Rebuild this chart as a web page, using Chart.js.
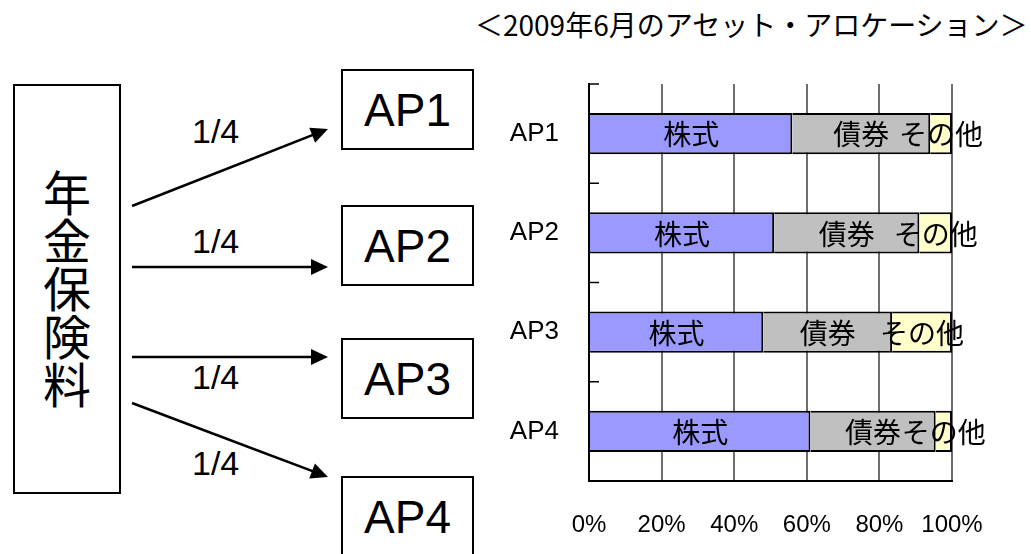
<!DOCTYPE html>
<html lang="ja">
<head>
    <meta charset="UTF-8">
    <title>2009年6月のアセット・アロケーション</title>
    <script src="https://cdn.jsdelivr.net/npm/chart.js@4/dist/chart.umd.js"></script>
    <style>
        body {margin: 0; width: 1031px; height: 554px; overflow: hidden; position: relative; background: #fff;
              font-family: "Liberation Sans", Arial, sans-serif; color: #000;}
        .box {position: absolute; border: 2px solid #000; box-sizing: border-box; display: flex;
              align-items: center; justify-content: center; background: #fff;}
        .ap {left: 341px; width: 133px; height: 81px; font-size: 46px;}
        #source {left: 13px; top: 84px; width: 108px; height: 410px;
                 font-family: "Noto Sans CJK JP", sans-serif; font-size: 48px;}
        #source span {writing-mode: vertical-rl; line-height: 1;}
        .frac {position: absolute; left: 192px; font-size: 34px; line-height: 1;}
        #title {position: absolute; left: 475px; top: 10px; font-family: "Noto Sans CJK JP", sans-serif;
                font-size: 28px; line-height: 1; white-space: nowrap;}
        #arrows {position: absolute; left: 0; top: 0;}
        #allocChart {position: absolute; left: 0; top: 0;}
    </style>
</head>
<body>

<div id="title">＜2009年6月のアセット・アロケーション＞</div>

<div class="box" id="source"><span>年金保険料</span></div>

<div class="box ap" style="top:69px">AP1</div>
<div class="box ap" style="top:205px">AP2</div>
<div class="box ap" style="top:338px">AP3</div>
<div class="box ap" style="top:476px">AP4</div>

<div class="frac" style="top:114px">1/4</div>
<div class="frac" style="top:224px">1/4</div>
<div class="frac" style="top:360px">1/4</div>
<div class="frac" style="top:446px">1/4</div>

<svg id="arrows" width="1031" height="554"></svg>

<canvas id="allocChart" width="1031" height="554"></canvas>

<script>
// allocation per fund, in percent
const funds = ['AP1', 'AP2', 'AP3', 'AP4'];
const stocks = [56, 51, 48, 61];
const bonds = [38, 40, 35.5, 34.5];
const others = [6, 9, 16.5, 4.5];
const assetNames = ['株式', '債券', 'その他'];
const assetColors = ['#9999FF', '#C0C0C0', '#FFFFCC'];
const xTickValues = [0, 20, 40, 60, 80, 100];

// flow arrows of the left diagram: start -> tip
const arrows = [
    [132, 206, 328, 129],
    [132, 267, 328, 267],
    [132, 357, 328, 357],
    [132, 403, 328, 477]
];

const svg = document.getElementById('arrows');
arrows.forEach(a => {
    const [x1, y1, x2, y2] = a;
    const len = Math.hypot(x2 - x1, y2 - y1);
    const ux = (x2 - x1) / len, uy = (y2 - y1) / len;
    const bx = x2 - 17 * ux, by = y2 - 17 * uy;
    const line = document.createElementNS('http://www.w3.org/2000/svg', 'line');
    line.setAttribute('x1', x1); line.setAttribute('y1', y1);
    line.setAttribute('x2', x2 - 8 * ux); line.setAttribute('y2', y2 - 8 * uy);
    line.setAttribute('stroke', '#000'); line.setAttribute('stroke-width', '2.5');
    svg.appendChild(line);
    const head = document.createElementNS('http://www.w3.org/2000/svg', 'polygon');
    head.setAttribute('points', x2 + ',' + y2 + ' ' + (bx - 8 * uy) + ',' + (by + 8 * ux) + ' ' + (bx + 8 * uy) + ',' + (by - 8 * ux));
    head.setAttribute('fill', '#000');
    svg.appendChild(head);
});

// write the asset name in the middle of each segment
const segmentLabels = {
    id: 'segmentLabels',
    afterDatasetsDraw(chart) {
        const ctx = chart.ctx;
        ctx.save();
        ctx.font = '28px "Noto Sans CJK JP"';
        ctx.fillStyle = '#000';
        ctx.textAlign = 'center';
        ctx.textBaseline = 'middle';
        chart.data.datasets.forEach((ds, i) => {
            chart.getDatasetMeta(i).data.forEach(bar => {
                ctx.fillText(ds.label, (bar.x + bar.base) / 2, bar.y + 1);
            });
        });
        ctx.restore();
    }
};

// short tick marks on the inside of the category axis
const innerTicks = {
    id: 'innerTicks',
    afterDraw(chart) {
        const y = chart.scales.y;
        const ctx = chart.ctx;
        const step = (y.bottom - y.top) / funds.length;
        ctx.save();
        ctx.strokeStyle = '#000';
        ctx.lineWidth = 1.5;
        for (let i = 0; i < funds.length; i++) {
            const py = y.top + i * step;
            ctx.beginPath();
            ctx.moveTo(y.right, py);
            ctx.lineTo(y.right + 10, py);
            ctx.stroke();
        }
        ctx.restore();
    }
};

const seriesValues = [stocks, bonds, others];

new Chart(document.getElementById('allocChart'), {
    type: 'bar',
    data: {
        labels: funds,
        datasets: assetNames.map((name, i) => ({
            label: name,
            data: seriesValues[i],
            backgroundColor: assetColors[i],
            borderColor: '#000',
            borderWidth: 2,
            borderSkipped: 'start',
            categoryPercentage: 1,
            barPercentage: 0.415
        }))
    },
    options: {
        indexAxis: 'y',
        responsive: false,
        animation: false,
        layout: {padding: {left: 489, right: 79, top: 84, bottom: 0}},
        plugins: {legend: {display: false}, tooltip: {enabled: false}},
        scales: {
            x: {
                stacked: true,
                min: 0,
                max: 100,
                afterBuildTicks: s => { s.ticks = xTickValues.map(v => ({value: v})); },
                afterFit: s => { s.height = 73; },
                ticks: {
                    callback: v => v + '%',
                    color: '#000',
                    font: {family: '"Liberation Sans", Arial, sans-serif', size: 24},
                    padding: 30,
                    maxRotation: 0,
                    autoSkip: false
                },
                grid: {color: '#6e6e6e', lineWidth: 2, drawTicks: false},
                border: {color: '#000', width: 2}
            },
            y: {
                stacked: true,
                afterFit: s => { s.width = 100; },
                ticks: {
                    color: '#000',
                    font: {family: '"Liberation Sans", Arial, sans-serif', size: 26},
                    padding: 22
                },
                grid: {display: false},
                border: {color: '#000', width: 2}
            }
        }
    },
    plugins: [segmentLabels, innerTicks]
});
</script>

</body>
</html>
